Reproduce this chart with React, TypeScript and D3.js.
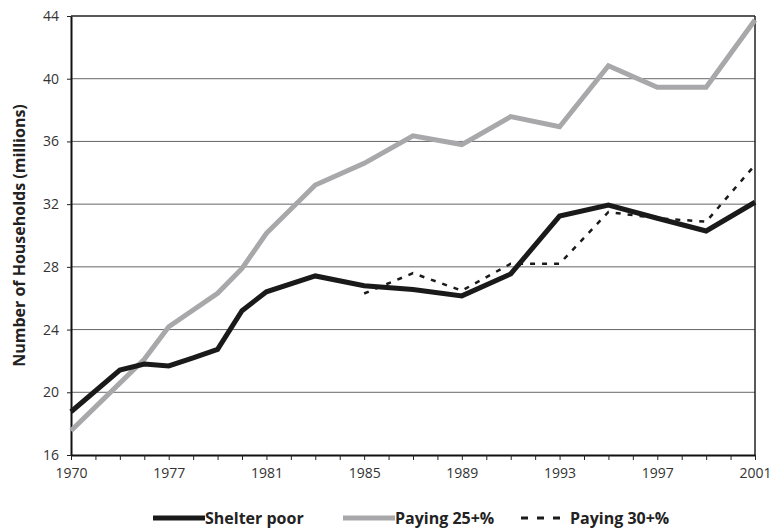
import React, { useEffect, useRef } from "react";
import * as d3 from "d3";

// x categories: 1970, then every year 1974..2001
const categories = ["1970"].concat(d3.range(1974, 2002).map(String));
const tickYears = ["1970", "1977", "1981", "1985", "1989", "1993", "1997", "2001"];
const yTicks = [16, 20, 24, 28, 32, 36, 40, 44];

const shelterYears = ["1970", "1975", "1976", "1977", "1978", "1979", "1980", "1981", "1983", "1985", "1987", "1989", "1991", "1993", "1995", "1997", "1999", "2001"];
const shelterPoor = [18.76, 21.42, 21.8, 21.68, 22.19, 22.74, 25.2, 26.41, 27.42, 26.8, 26.55, 26.15, 27.55, 31.24, 31.94, 31.1, 30.29, 32.12];

const pay25Years = ["1970", "1976", "1977", "1979", "1980", "1981", "1983", "1985", "1987", "1989", "1991", "1993", "1995", "1997", "1999", "2001"];
const paying25 = [17.55, 22.1, 24.18, 26.31, 27.9, 30.14, 33.22, 34.6, 36.36, 35.8, 37.58, 36.94, 40.83, 39.45, 39.45, 43.74];

const pay30Years = ["1985", "1987", "1989", "1991", "1993", "1995", "1997", "1999", "2001"];
const paying30 = [26.3, 27.6, 26.48, 28.2, 28.2, 31.5, 31.1, 30.88, 34.5];

const W = 772;
const H = 528;
const font = "'Open Sans', sans-serif";

const App = () => {
  const svgRef = useRef<SVGSVGElement>(null);

  useEffect(() => {
    const svg = d3.select(svgRef.current);
    svg.selectAll("*").remove();

    const left = 71, right = 755, top = 16, bottom = 455;

    const x = d3.scalePoint().domain(categories).range([left, right]);
    const y = d3.scaleLinear().domain([16, 44]).range([bottom, top]);

    // gridlines
    svg
      .append("g")
      .selectAll("line")
      .data(yTicks.slice(1))
      .enter()
      .append("line")
      .attr("x1", left)
      .attr("x2", right)
      .attr("y1", (d) => y(d))
      .attr("y2", (d) => y(d))
      .attr("stroke", (d) => (d === 44 ? "#222" : "#666"))
      .attr("stroke-width", (d) => (d === 44 ? 1.5 : 1));

    // right border
    svg
      .append("line")
      .attr("x1", right)
      .attr("x2", right)
      .attr("y1", top)
      .attr("y2", bottom)
      .attr("stroke", "#222")
      .attr("stroke-width", 1.5);

    // x axis
    const xAxis = svg
      .append("g")
      .attr("transform", `translate(0,${bottom})`)
      .call(
        d3
          .axisBottom(x)
          .tickSize(5)
          .tickSizeOuter(0)
          .tickFormat((d) => (tickYears.includes(d as string) ? (d as string) : ""))
      );
    xAxis.select(".domain").attr("stroke", "#111").attr("stroke-width", 2);
    xAxis.selectAll(".tick line").attr("stroke", "#222");
    xAxis
      .selectAll(".tick text")
      .attr("font-family", font)
      .attr("font-size", 14)
      .attr("fill", "#333")
      .attr("dy", "1.1em");

    // y axis
    const yAxis = svg
      .append("g")
      .attr("transform", `translate(${left},0)`)
      .call(d3.axisLeft(y).tickValues(yTicks).tickSize(4).tickSizeOuter(0).tickPadding(8));
    yAxis.select(".domain").attr("stroke", "#111").attr("stroke-width", 2);
    yAxis.selectAll(".tick line").attr("stroke", "#222");
    yAxis
      .selectAll(".tick text")
      .attr("font-family", font)
      .attr("font-size", 14)
      .attr("fill", "#333");

    svg
      .append("text")
      .attr("transform", `translate(25,${(top + bottom) / 2}) rotate(-90)`)
      .attr("text-anchor", "middle")
      .attr("font-family", font)
      .attr("font-weight", "bold")
      .attr("font-size", 16)
      .attr("fill", "#222")
      .text("Number of Households (millions)");

    const line = d3
      .line<[string, number]>()
      .x((d) => x(d[0]) as number)
      .y((d) => y(d[1]));

    svg
      .append("path")
      .datum(d3.zip(pay25Years, paying25) as [string, number][])
      .attr("d", line)
      .attr("fill", "none")
      .attr("stroke", "#a8a8aa")
      .attr("stroke-width", 5);

    svg
      .append("path")
      .datum(d3.zip(shelterYears, shelterPoor) as [string, number][])
      .attr("d", line)
      .attr("fill", "none")
      .attr("stroke", "#1a1a1a")
      .attr("stroke-width", 5);

    svg
      .append("path")
      .datum(d3.zip(pay30Years, paying30) as [string, number][])
      .attr("d", line)
      .attr("fill", "none")
      .attr("stroke", "#1a1a1a")
      .attr("stroke-width", 2.5)
      .attr("stroke-dasharray", "5,7");

    // legend
    const legend = [
      { label: "Shelter poor", x0: 153, x1: 205, color: "#1a1a1a", w: 5, dash: null },
      { label: "Paying 25+%", x0: 343, x1: 395, color: "#a8a8aa", w: 5, dash: null },
      { label: "Paying 30+%", x0: 521, x1: 560, color: "#1a1a1a", w: 3, dash: "7,9" },
    ];
    const ly = 518;
    legend.forEach((l, i) => {
      svg
        .append("line")
        .attr("x1", l.x0)
        .attr("x2", l.x1)
        .attr("y1", ly)
        .attr("y2", ly)
        .attr("stroke", l.color)
        .attr("stroke-width", l.w)
        .attr("stroke-dasharray", l.dash);
      svg
        .append("text")
        .attr("x", i === 2 ? 570 : l.x1)
        .attr("y", ly + 6)
        .attr("font-family", font)
        .attr("font-weight", "bold")
        .attr("font-size", 16)
        .attr("fill", "#222")
        .text(l.label);
    });
  }, []);

  return (
    <div style={{ position: "absolute", left: 0, top: 0 }}>
      <svg ref={svgRef} width={W} height={H} style={{ display: "block", background: "#fff" }} />
    </div>
  );
};

export default App;
